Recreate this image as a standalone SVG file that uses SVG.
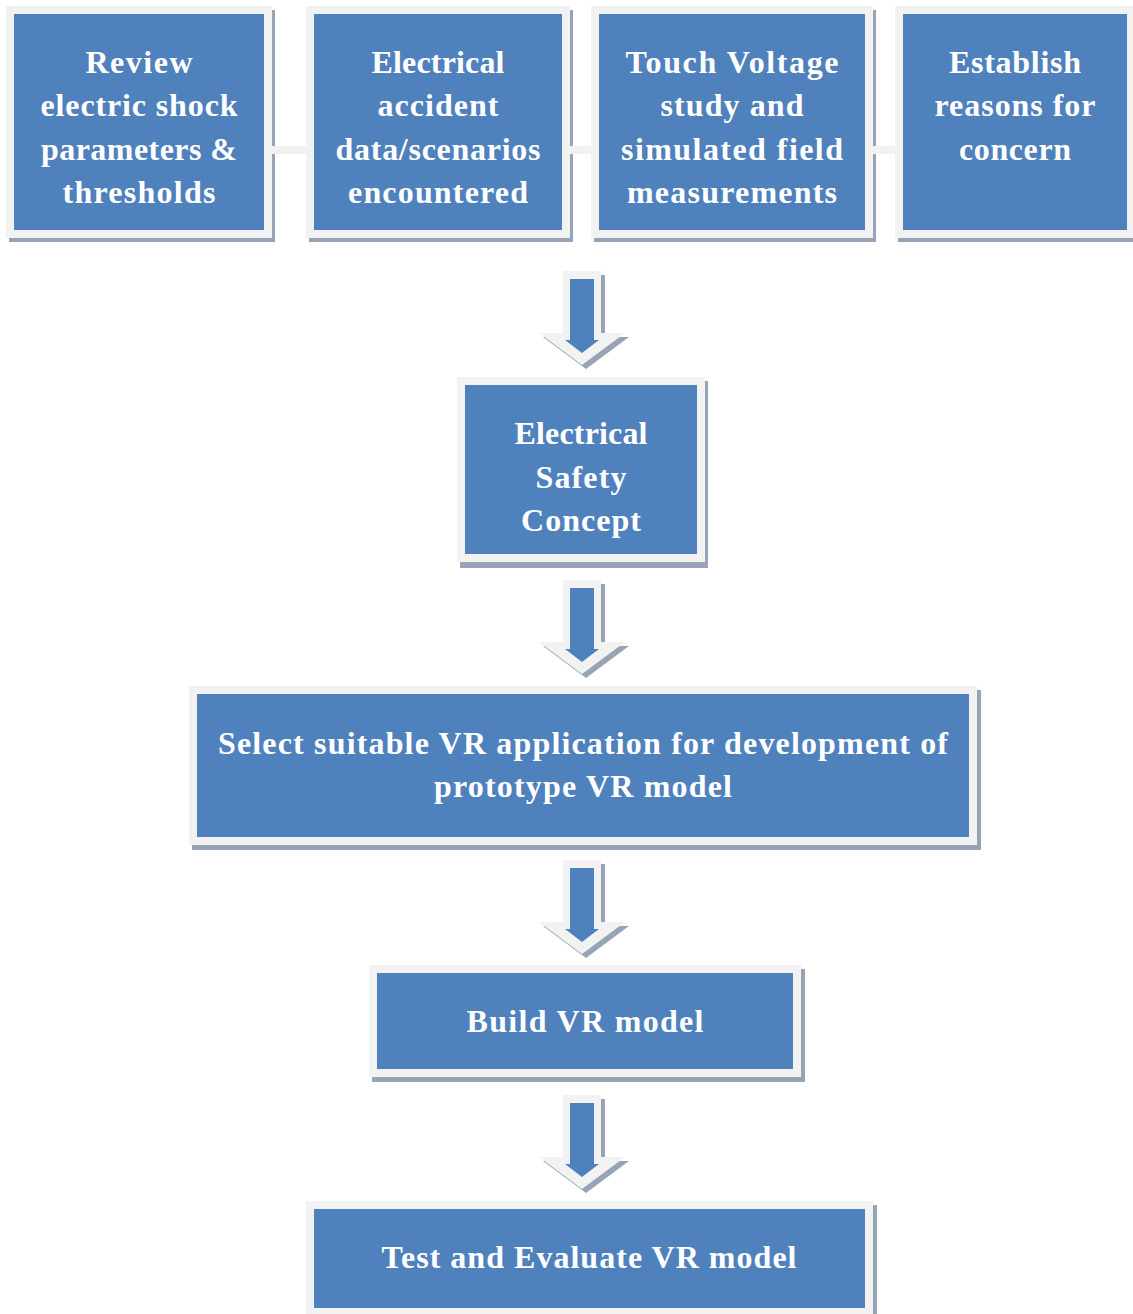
<svg xmlns="http://www.w3.org/2000/svg" xmlns:xlink="http://www.w3.org/1999/xlink" width="1133" height="1314" viewBox="0 0 1133 1314">
<style>
.sh{fill:#97a4b6}
.bx{fill:#4f81bd;stroke:#f2f2f2;stroke-width:8}
.bar{fill:#f2f2f2}
.t{font-family:"Liberation Serif","Times New Roman",serif;font-weight:bold;font-size:32px;fill:#ffffff;text-anchor:middle}
</style>
<defs>
<g id="arrow">
<polygon class="sh" points="567,4 605,4 605,66 629,66 586,98 543,66 567,66"/>
<polygon fill="#f2f2f2" points="563,0 601,0 601,62 625,62 582,94 539,62 563,62"/>
<polygon fill="#4f81bd" points="570,8 594,8 594,69 599,69 582,82 565,69 570,69"/>
</g>
</defs>
<rect width="1133" height="1314" fill="#ffffff"/>
<g id="n1">
<rect class="sh" x="9" y="10" width="266" height="232"/>
<rect class="bx" x="10" y="10" width="258" height="224"/>
<text class="t" x="139" y="73" textLength="107">Review</text>
<text class="t" x="139" y="116" textLength="197">electric shock</text>
<text class="t" x="139" y="160" textLength="196">parameters &amp;</text>
<text class="t" x="139" y="203" textLength="153">thresholds</text>
</g>
<g id="n2">
<rect class="sh" x="309" y="10" width="264" height="232"/>
<rect class="bx" x="310" y="10" width="256" height="224"/>
<text class="t" x="438" y="73" textLength="133">Electrical</text>
<text class="t" x="438" y="116" textLength="121">accident</text>
<text class="t" x="438" y="160" textLength="205">data/scenarios</text>
<text class="t" x="438" y="203" textLength="180">encountered</text>
</g>
<g id="n3">
<rect class="sh" x="594" y="10" width="282" height="232"/>
<rect class="bx" x="595" y="10" width="274" height="224"/>
<text class="t" x="732" y="73" textLength="213">Touch Voltage</text>
<text class="t" x="732" y="116" textLength="143">study and</text>
<text class="t" x="732" y="160" textLength="222">simulated field</text>
<text class="t" x="732" y="203" textLength="210">measurements</text>
</g>
<g id="n4">
<rect class="sh" x="898" y="10" width="240" height="232"/>
<rect class="bx" x="899" y="10" width="232" height="224"/>
<text class="t" x="1015" y="73" textLength="132">Establish</text>
<text class="t" x="1015" y="116" textLength="161">reasons for</text>
<text class="t" x="1015" y="160" textLength="112">concern</text>
</g>
<g id="n5">
<rect class="sh" x="460" y="381" width="248" height="187"/>
<rect class="bx" x="461" y="381" width="240" height="177"/>
<text class="t" x="581" y="444" textLength="133">Electrical</text>
<text class="t" x="581" y="488" textLength="91">Safety</text>
<text class="t" x="581" y="531" textLength="120">Concept</text>
</g>
<g id="n6">
<rect class="sh" x="192" y="690" width="789" height="160"/>
<rect class="bx" x="193" y="690" width="780" height="151"/>
<text class="t" x="583" y="754" textLength="730">Select suitable VR application for development of</text>
<text class="t" x="583" y="797" textLength="298">prototype VR model</text>
</g>
<g id="n7">
<rect class="sh" x="372" y="969" width="433" height="113"/>
<rect class="bx" x="373" y="969" width="424" height="104"/>
<text class="t" x="585" y="1032" textLength="237">Build VR model</text>
</g>
<g id="n8">
<rect class="sh" x="309" y="1205" width="568" height="115"/>
<rect class="bx" x="310" y="1205" width="559" height="107"/>
<text class="t" x="589" y="1268" textLength="415">Test and Evaluate VR model</text>
</g>
<g id="connectors">
<rect class="bar" x="272" y="146" width="38" height="8"/>
<rect class="bar" x="570" y="146" width="29" height="8"/>
<rect class="bar" x="873" y="146" width="30" height="8"/>
<use xlink:href="#arrow" transform="translate(0,271)"/>
<use xlink:href="#arrow" transform="translate(0,580)"/>
<use xlink:href="#arrow" transform="translate(0,860)"/>
<use xlink:href="#arrow" transform="translate(0,1095)"/>
</g>
</svg>
